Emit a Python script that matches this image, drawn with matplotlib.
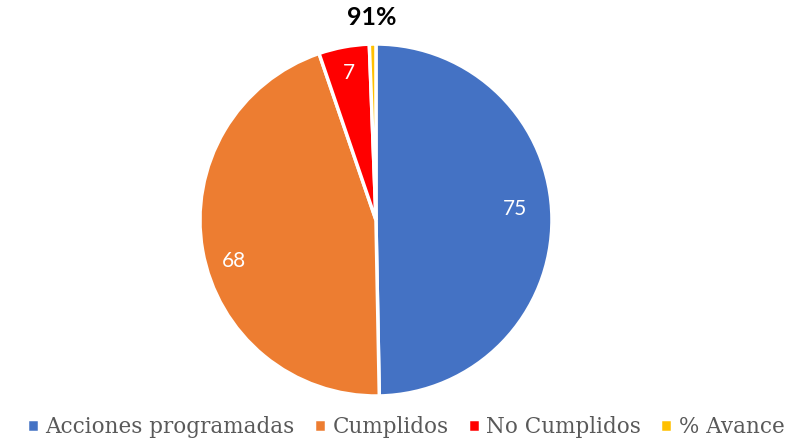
import numpy as np
import matplotlib.pyplot as plt

# data
categories = ["Acciones programadas", "Cumplidos", "No Cumplidos", "% Avance"]
values = [75, 68, 7, 0.91]
value_labels = ["75", "68", "7", "91%"]
colors = ["#4472C4", "#ED7D31", "#FF0000", "#FFC000"]

fig = plt.figure(figsize=(7.91, 4.40), dpi=100)
ax = fig.add_axes([0.2528, 0.1, 0.445, 0.8])

wedges, _ = ax.pie(values, colors=colors, startangle=90, counterclock=False,
                   wedgeprops=dict(edgecolor="white", linewidth=2.5))
ax.set_xlim(-1, 1)
ax.set_ylim(-1, 1)
ax.set_aspect("equal")

# data labels: white inside the slice, last one bold black outside
dists = [0.79, 0.84, 0.85, 1.15]
shifts = [4, 6, 0, 0]  # small angle nudges (deg) like excel places them
for w, lab, d, s in zip(wedges, value_labels, dists, shifts):
    ang = np.deg2rad((w.theta1 + w.theta2) / 2 + s)
    x, y = d * np.cos(ang), d * np.sin(ang)
    if lab.endswith("%"):
        ax.text(x, y, lab, ha="center", va="center", fontsize=18,
                fontweight="bold", family="Lato", color="black")
    else:
        ax.text(x, y, lab, ha="center", va="center", fontsize=15,
                family="Lato", color="white")

leg = fig.legend(wedges, categories, loc="lower center", ncol=4,
                 bbox_to_anchor=(0.513, -0.04), frameon=False,
                 handlelength=0.55, handleheight=0.55, handletextpad=0.3,
                 columnspacing=0.9, prop=dict(family="DejaVu Serif", size=15.5))
for t in leg.get_texts():
    t.set_color("#595959")

plt.savefig("out.png", dpi=100)
